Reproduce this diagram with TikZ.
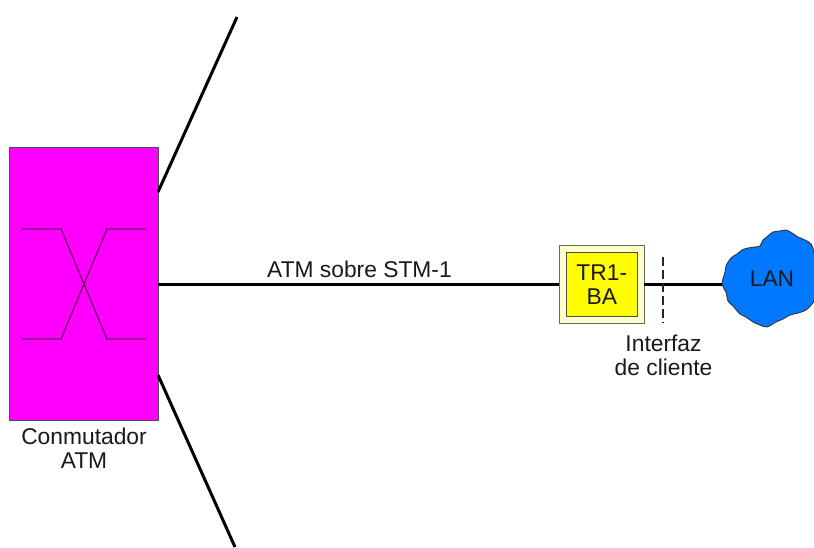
\documentclass[tikz,border=0pt]{standalone}
\usepackage{fontspec}
\setmainfont{Liberation Sans}
\definecolor{swfill}{RGB}{255,0,255}
\definecolor{yfill}{RGB}{255,255,0}
\definecolor{ypale}{RGB}{255,255,204}
\definecolor{xcol}{RGB}{110,0,110}
\definecolor{lanblue}{RGB}{0,120,255}
\tikzset{
  lbl/.style={inner sep=0pt,align=center,font=\fontsize{22.8}{24}\selectfont,text=black!90},
  link/.style={draw=black,line width=3pt},
  xline/.style={draw=xcol,line width=1.3pt},
}
\begin{document}
\begin{tikzpicture}[x=1pt,y=-1pt]
\useasboundingbox (0,0) rectangle (814,547);
\fill[white] (0,0) rectangle (814,547);
% ATM switch
\node[draw=black!70,line width=1pt,fill=swfill,minimum width=149pt,minimum height=273pt,inner sep=0pt,anchor=north west] (sw) at (8.8,147) {};
\node[lbl,anchor=north] (swl) at (84,427.5) {Conmutador\\ATM};
\coordinate (a1) at (22,229); \coordinate (a2) at (61,229); \coordinate (a3) at (107,339); \coordinate (a4) at (146,339);
\coordinate (b1) at (22,339); \coordinate (b2) at (61,339); \coordinate (b3) at (107,229); \coordinate (b4) at (146,229);
\draw[xline] (a1) -- (a2) -- (a3) -- (a4);
\draw[xline] (b1) -- (b2) -- (b3) -- (b4);
% TR1-BA
\node[draw=black!60,line width=1pt,fill=ypale,minimum width=85pt,minimum height=78pt,inner sep=0pt,anchor=north west] (tro) at (558.8,245) {};
\node[draw=black!70,line width=1pt,fill=yfill,minimum width=71pt,minimum height=64pt,inner sep=0pt,lbl,anchor=north west] (tr) at (565.8,252) {TR1-\\BA};
% cloud
\path[fill=lanblue,draw=black!80,line width=0.9pt]
 plot[smooth cycle,tension=0.55] coordinates {
 (722,284) (725,272) (726,266) (731,258) (737,254) (742,250) (748,248) (755,247) (760,246)
 (763,240) (768,236) (773,232) (780,231) (786,230) (792,233) (798,237) (805,240) (811,244)
 (814,252) (815,262) (815,278) (815,298) (812,304) (806,310) (798,313) (790,315) (783,319)
 (776,322) (767,327) (760,325) (753,322) (746,317) (740,314) (733,306) (728,301) (726,292)};
\coordinate (cl) at (722,284);
\node[lbl,inner sep=0pt] (lan) at (772,279) {LAN};
% links
\coordinate (t1) at (237,17); \coordinate (s1) at (158,192);
\coordinate (t2) at (235,547); \coordinate (s2) at (158,375);
\coordinate (s3) at (158,284);
\draw[link] (s1) -- (t1);
\draw[link] (s2) -- (t2);
\coordinate (tl) at (559,284); \coordinate (tr2) at (644,284);
\draw[link] (s3) -- (tl);
\draw[link] (tr2) -- (cl);
\coordinate (d1) at (663,257); \coordinate (d2) at (663,323);
\draw[draw=black!85,line width=2pt,dash pattern=on 9pt off 4pt] (d1) -- (d2);
\node[lbl,anchor=south] (atm) at (359.5,278) {ATM sobre STM-1};
\node[lbl,anchor=north] (ifc) at (663.5,335) {Interfaz\\de cliente};
\end{tikzpicture}
\end{document}
